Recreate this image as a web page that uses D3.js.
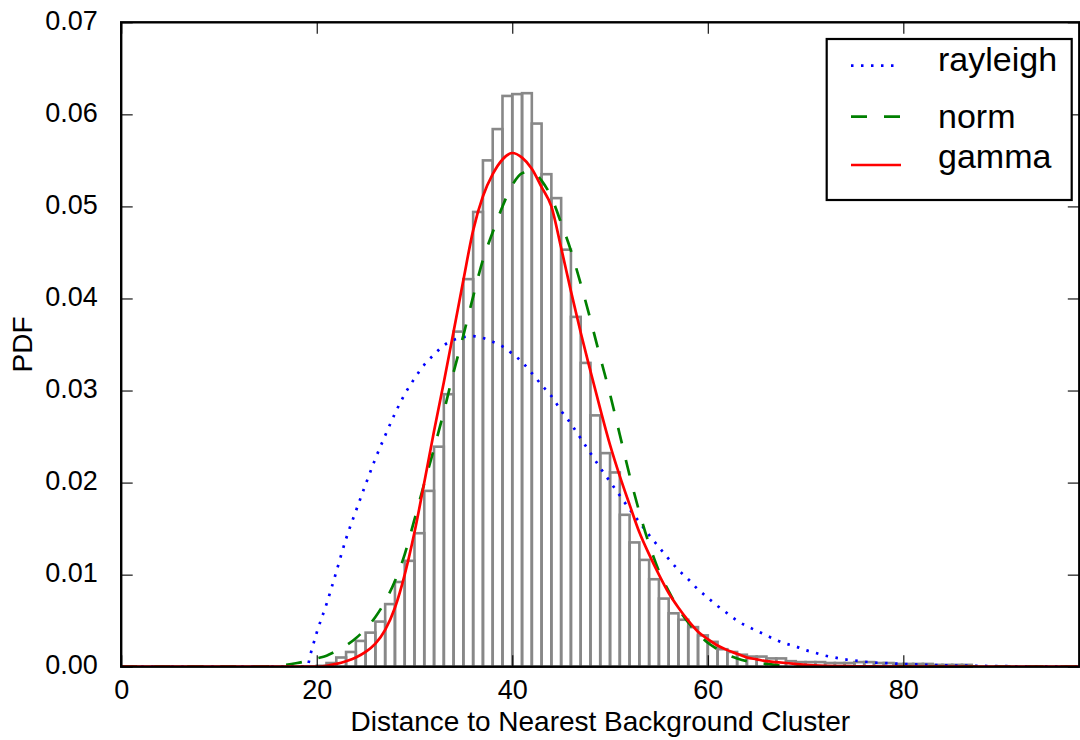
<!DOCTYPE html>
<html>
<head>
<meta charset="utf-8">
<script src="https://cdn.jsdelivr.net/npm/d3@7"></script>
<style>
  body { margin: 0; background: #fff; }
  svg { display: block; font-family: "Liberation Sans", Arial, Helvetica, sans-serif; }
</style>
</head>
<body>
<div id="chart"></div>
<script>
// Histogram: left edge of each 1-wide bin and its density.
var binLefts = [20, 21, 22, 23, 24, 25, 26, 27, 28, 29,
                30, 31, 32, 33, 34, 35, 36, 37, 38, 39,
                40, 41, 42, 43, 44, 45, 46, 47, 48, 49,
                50, 51, 52, 53, 54, 55, 56, 57, 58, 59,
                60, 61, 62, 63, 64, 65, 66, 67, 68, 69,
                70, 71, 72, 73, 74, 75, 76, 77, 78, 79,
                80, 81, 82, 83, 84, 85, 86];
var binValues = [0.0001, 0.0004, 0.0010, 0.0016, 0.0028, 0.0037, 0.0049, 0.0068, 0.0092, 0.0115,
                 0.0145, 0.0191, 0.0239, 0.0296, 0.0364, 0.0421, 0.0494, 0.0550, 0.0584, 0.0620,
                 0.0622, 0.0623, 0.0590, 0.0535, 0.0509, 0.0453, 0.0380, 0.0330, 0.0273, 0.0232,
                 0.0211, 0.0165, 0.0135, 0.0116, 0.0095, 0.0074, 0.0058, 0.0051, 0.0043, 0.0034,
                 0.0027, 0.0019, 0.0016, 0.0013, 0.0011, 0.0011, 0.0009, 0.0009, 0.0006, 0.0005,
                 0.0005, 0.0005, 0.0004, 0.0004, 0.0004, 0.0005, 0.0005, 0.0004, 0.0004, 0.0003,
                 0.0003, 0.0003, 0.0003, 0.0002, 0.0002, 0.0002, 0.0002];
var binWidth = 1;

// Fitted curves.
var rayleighX = [0, 19, 19.4, 20, 21, 22, 23, 24, 25, 26, 27, 28, 29, 30, 31, 32, 33, 34, 35, 36,
                 37, 38, 39, 40, 41, 42, 43, 44, 45, 46, 47, 48, 49, 50, 51, 52, 53, 54, 55, 56,
                 57, 58, 59, 60, 61, 62, 63, 64, 65, 66, 67, 68, 69, 70, 71, 72, 73, 74, 75, 76,
                 77, 78, 80, 82, 84, 86, 90, 98];
var rayleighY = [0, 0, 0.0015, 0.0037, 0.0068, 0.0103, 0.0139, 0.0169, 0.0198, 0.0226, 0.0251, 0.0275, 0.0296, 0.0313, 0.0328, 0.0339, 0.0349, 0.0355, 0.0358, 0.0359,
                 0.0357, 0.0353, 0.0348, 0.0340, 0.0331, 0.0319, 0.0306, 0.0294, 0.0278, 0.0264, 0.0248, 0.0232, 0.0216, 0.0201, 0.0186, 0.0171, 0.0157, 0.0143, 0.0130, 0.0117,
                 0.0105, 0.0095, 0.0084, 0.0075, 0.0066, 0.0058, 0.0050, 0.0044, 0.0039, 0.0034, 0.0029, 0.0025, 0.0022, 0.0018, 0.0015, 0.0012, 0.0010, 0.0008, 0.00068, 0.00055,
                 0.00045, 0.0004, 0.0003, 0.00022, 0.00016, 0.00012, 0.00006, 0.00002];

var normX = [0, 10, 14, 16, 18, 20, 21, 22, 23, 24, 25, 26, 27, 28, 29, 30, 31, 32, 33, 34,
             35, 36, 37, 38, 39, 40, 41, 42, 43, 44, 45, 46, 47, 48, 49, 50, 51, 52, 53, 54,
             55, 56, 57, 58, 59, 60, 61, 62, 63, 64, 65, 66, 68, 70, 98];
var normY = [0, 0, 0.00002, 0.0001, 0.0004, 0.0009, 0.0012, 0.0017, 0.0023, 0.0031, 0.0041, 0.0054, 0.0071, 0.0093, 0.0122, 0.0160, 0.0199, 0.0237, 0.0277, 0.0320,
             0.0360, 0.0402, 0.0442, 0.0472, 0.0500, 0.0523, 0.0536, 0.0538, 0.0528, 0.0510, 0.0482, 0.0452, 0.0416, 0.0377, 0.0336, 0.0296, 0.0252, 0.0208, 0.0168, 0.0133,
             0.0104, 0.0082, 0.0063, 0.0048, 0.0036, 0.0026, 0.0019, 0.0013, 0.0009, 0.0006, 0.0004, 0.0003, 0.0001, 0.00005, 0];

var gammaX = [0, 20, 21, 22, 23, 24, 25, 26, 27, 28, 29, 30, 31, 32, 33, 34, 35, 36, 37, 38,
              39, 40, 41, 42, 43, 44, 45, 46, 47, 48, 49, 50, 51, 52, 53, 54, 55, 56, 57, 58,
              59, 60, 61, 62, 63, 64, 65, 66, 67, 68, 70, 72, 75, 80, 98];
var gammaY = [0, 0, 0.0001, 0.0003, 0.0006, 0.0010, 0.0016, 0.0025, 0.0040, 0.0064, 0.0100, 0.0146, 0.0200, 0.0256, 0.0309, 0.0364, 0.0420, 0.0474, 0.0511, 0.0535,
              0.0551, 0.0558, 0.0553, 0.0541, 0.0521, 0.0500, 0.0455, 0.0408, 0.0363, 0.0321, 0.0280, 0.0241, 0.0207, 0.0176, 0.0146, 0.0122, 0.0100, 0.0080, 0.0064, 0.0050,
              0.0038, 0.0030, 0.0023, 0.0018, 0.0014, 0.0010, 0.0008, 0.0006, 0.0005, 0.0004, 0.0002, 0.0001, 0.00005, 0.00002, 0];

var seriesNames = ['rayleigh', 'norm', 'gamma'];
var seriesColors = ['#0000ff', '#008000', '#ff0000'];

var xTicks = [0, 20, 40, 60, 80];
var yTicks = [0, 0.01, 0.02, 0.03, 0.04, 0.05, 0.06, 0.07];

var xLabel = 'Distance to Nearest Background Cluster';
var yLabel = 'PDF';

(function() {
  'use strict';

  var width = 1080, height = 740;
  var plot = {left: 121.2, right: 1079.3, top: 22.3, bottom: 666.7};

  var xScale = d3.scaleLinear().domain([0, 98]).range([plot.left, plot.right]);
  var yScale = d3.scaleLinear().domain([0, 0.07]).range([plot.bottom, plot.top]);

  var svg = d3.select('#chart').append('svg')
      .attr('width', width)
      .attr('height', height);

  // Histogram bars, outlined only.
  var bins = binLefts.map(function(d, i) { return {x0: d, x1: d + binWidth, v: binValues[i]}; });

  svg.append('g').selectAll('rect')
      .data(bins)
      .enter().append('rect')
      .attr('x', function(d) { return xScale(d.x0); })
      .attr('y', function(d) { return yScale(d.v); })
      .attr('width', function(d) { return xScale(d.x1) - xScale(d.x0); })
      .attr('height', function(d) { return yScale(0) - yScale(d.v); })
      .attr('fill', 'none')
      .attr('stroke', '#888888')
      .attr('stroke-width', 2.6);

  // Fitted curves.
  var curves = [
    {name: 'rayleigh', xs: rayleighX, ys: rayleighY, dash: '2.5,7.5'},
    {name: 'norm', xs: normX, ys: normY, dash: '16,17'},
    {name: 'gamma', xs: gammaX, ys: gammaY, dash: null}
  ];

  var line = d3.line()
      .x(function(d) { return xScale(d[0]); })
      .y(function(d) { return yScale(d[1]); })
      .curve(d3.curveMonotoneX);

  svg.append('defs').append('clipPath').attr('id', 'plot-clip')
    .append('rect')
      .attr('x', plot.left).attr('y', plot.top)
      .attr('width', plot.right - plot.left)
      .attr('height', plot.bottom - plot.top);

  var curveGroup = svg.append('g').attr('clip-path', 'url(#plot-clip)');

  curves.forEach(function(c) {
    var pts = c.xs.map(function(x, i) { return [x, c.ys[i]]; });
    curveGroup.append('path')
        .attr('d', line(pts))
        .attr('fill', 'none')
        .attr('stroke', seriesColors[seriesNames.indexOf(c.name)])
        .attr('stroke-width', 2.7)
        .attr('stroke-dasharray', c.dash);
  });

  // Axes: ticks point inwards on all four sides, as in matplotlib classic.
  var tickLen = 11.5;

  var xAxisB = d3.axisBottom(xScale).tickValues(xTicks).tickSizeInner(-tickLen).tickSizeOuter(0)
      .tickPadding(13).tickFormat(d3.format('d'));
  var xAxisT = d3.axisTop(xScale).tickValues(xTicks).tickSizeInner(-tickLen).tickSizeOuter(0)
      .tickFormat('');
  var yAxisL = d3.axisLeft(yScale).tickValues(yTicks).tickSizeInner(-tickLen).tickSizeOuter(0)
      .tickPadding(tickLen + 12).tickFormat(d3.format('.2f'));
  var yAxisR = d3.axisRight(yScale).tickValues(yTicks).tickSizeInner(-tickLen).tickSizeOuter(0)
      .tickFormat('');

  function styleAxis(g) {
    g.select('.domain').remove();
    g.selectAll('.tick line').attr('stroke', '#000').attr('stroke-width', 1.1);
    g.selectAll('.tick text')
        .attr('fill', '#000')
        .style('font-size', '27px')
        .style('font-family', '"Liberation Sans", Arial, Helvetica, sans-serif');
  }

  svg.append('g').attr('transform', translation(0, plot.bottom)).call(xAxisB).call(styleAxis);
  svg.append('g').attr('transform', translation(0, plot.top)).call(xAxisT).call(styleAxis);
  svg.append('g').attr('transform', translation(plot.left, 0)).call(yAxisL).call(styleAxis)
    .selectAll('.tick text').attr('dy', '0.27em');
  svg.append('g').attr('transform', translation(plot.right, 0)).call(yAxisR).call(styleAxis);

  // Frame drawn on top of the data.
  svg.append('rect')
      .attr('x', plot.left)
      .attr('y', plot.top)
      .attr('width', plot.right - plot.left)
      .attr('height', plot.bottom - plot.top)
      .attr('fill', 'none')
      .attr('stroke', '#000')
      .attr('stroke-width', 2.4);

  // Axis labels.
  svg.append('text')
      .attr('x', (plot.left + plot.right) / 2)
      .attr('y', 731)
      .attr('text-anchor', 'middle')
      .style('font-size', '28px')
      .text(xLabel);

  svg.append('text')
      .attr('transform', translation(32, (plot.top + plot.bottom) / 2) + ' rotate(-90)')
      .attr('text-anchor', 'middle')
      .style('font-size', '28px')
      .text(yLabel);

  // Legend.
  var legend = {x: 826.7, y: 39, w: 245, h: 161};
  var lg = svg.append('g');
  lg.append('rect')
      .attr('x', legend.x).attr('y', legend.y)
      .attr('width', legend.w).attr('height', legend.h)
      .attr('fill', '#fff')
      .attr('stroke', '#000')
      .attr('stroke-width', 2.2);

  var handleY = [65.7, 116.7, 165];
  var textY = [70.7, 128.3, 168.3];

  curves.forEach(function(c, i) {
    lg.append('line')
        .attr('x1', 851).attr('x2', 901)
        .attr('y1', handleY[i]).attr('y2', handleY[i])
        .attr('stroke', seriesColors[seriesNames.indexOf(c.name)])
        .attr('stroke-width', 2.7)
        .attr('stroke-dasharray', c.dash);
    lg.append('text')
        .attr('x', 938)
        .attr('y', textY[i])
        .style('font-size', '34px')
        .text(c.name);
  });

  function translation(x, y) {
    return 'translate(' + x + ',' + y + ')';
  }
}());
</script>
</body>
</html>
